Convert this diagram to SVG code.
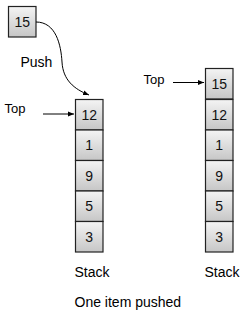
<svg xmlns="http://www.w3.org/2000/svg" width="250" height="324" viewBox="0 0 250 324">
<defs>
<linearGradient id="g" x1="0" y1="0" x2="0" y2="1">
<stop offset="0" stop-color="#f4f4f4"/>
<stop offset="1" stop-color="#c6c6c6"/>
</linearGradient>
<marker id="ah" viewBox="0 0 10 10" refX="10" refY="5" markerWidth="6" markerHeight="6" orient="auto" markerUnits="userSpaceOnUse">
<path d="M0,1 L10,5 L0,9 z" fill="#000"/>
</marker>
<style>
.box{fill:url(#g);stroke:#222;stroke-width:1.2}
.num{font-family:"Liberation Sans",Arial,sans-serif;font-size:14px;fill:#111;text-anchor:middle}
.lbl{font-family:"Liberation Sans",Arial,sans-serif;font-size:13px;fill:#000}
.cap{font-family:"Liberation Sans",Arial,sans-serif;font-size:14px;fill:#000}
.con{fill:none;stroke:#000;stroke-width:1}
</style>
</defs>
<rect width="250" height="324" fill="#fff"/>
<g id="new15"><rect class="box" x="8.5" y="6.5" width="27.5" height="30.5"/><text class="num" x="22.2" y="26.5">15</text></g>
<g id="left-stack">
<g id="l12"><rect class="box" x="75.5" y="99.5" width="27.5" height="30.5"/><text class="num" x="89.2" y="119.5">12</text></g>
<g id="l1"><rect class="box" x="75.5" y="130" width="27.5" height="30.5"/><text class="num" x="89.2" y="150">1</text></g>
<g id="l9"><rect class="box" x="75.5" y="160.5" width="27.5" height="30.5"/><text class="num" x="89.2" y="180.5">9</text></g>
<g id="l5"><rect class="box" x="75.5" y="191" width="27.5" height="30.5"/><text class="num" x="89.2" y="211">5</text></g>
<g id="l3"><rect class="box" x="75.5" y="221.5" width="27.5" height="30.5"/><text class="num" x="89.2" y="241.5">3</text></g>
</g>
<g id="right-stack">
<g id="r15"><rect class="box" x="205.5" y="68.5" width="27.5" height="30.5"/><text class="num" x="219.2" y="88.5">15</text></g>
<g id="r12"><rect class="box" x="205.5" y="99.5" width="27.5" height="30.5"/><text class="num" x="219.2" y="119.5">12</text></g>
<g id="r1"><rect class="box" x="205.5" y="130" width="27.5" height="30.5"/><text class="num" x="219.2" y="150">1</text></g>
<g id="r9"><rect class="box" x="205.5" y="160.5" width="27.5" height="30.5"/><text class="num" x="219.2" y="180.5">9</text></g>
<g id="r5"><rect class="box" x="205.5" y="191" width="27.5" height="30.5"/><text class="num" x="219.2" y="211">5</text></g>
<g id="r3"><rect class="box" x="205.5" y="221.5" width="27.5" height="30.5"/><text class="num" x="219.2" y="241.5">3</text></g>
</g>
<g id="connectors">
<path class="con" d="M36,22 C56,22 61,45 62,62 C63,80 74,89 89,95" marker-end="url(#ah)"/>
<line class="con" x1="43" y1="114" x2="74" y2="114" marker-end="url(#ah)"/>
<line class="con" x1="173" y1="82.5" x2="204" y2="82.5" marker-end="url(#ah)"/>
</g>
<g id="labels">
<text class="cap" x="20.5" y="67">Push</text>
<text class="lbl" x="4.5" y="113">Top</text>
<text class="lbl" x="143.5" y="84">Top</text>
<text class="cap" x="74.5" y="277">Stack</text>
<text class="cap" x="204.5" y="277">Stack</text>
<text class="cap" x="74.5" y="307">One item pushed</text>
</g>
</svg>
